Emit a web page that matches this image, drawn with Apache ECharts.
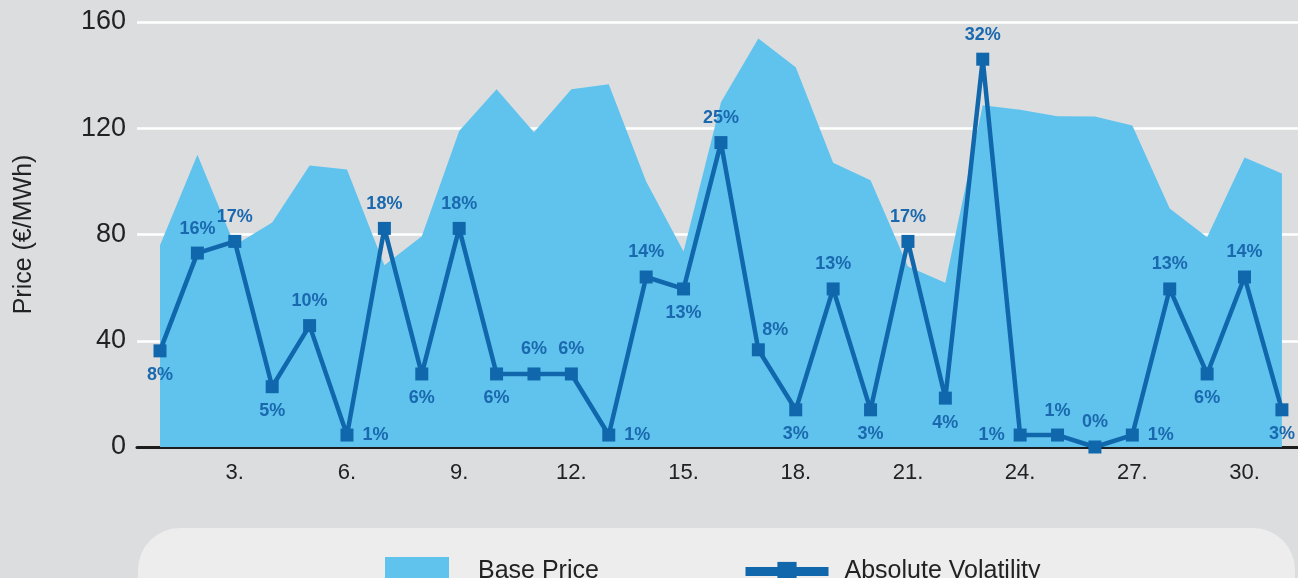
<!DOCTYPE html>
<html>
<head>
<meta charset="utf-8">
<script src="https://cdn.jsdelivr.net/npm/echarts@6/dist/echarts.min.js"></script>
<style>
html,body{margin:0;padding:0;background:#dcdddf;}
#chart{width:1298px;height:578px;}
</style>
</head>
<body>
<div id="chart"></div>
<script>
// ---- data ----
var days = [1,2,3,4,5,6,7,8,9,10,11,12,13,14,15,16,17,18,19,20,21,22,23,24,25,26,27,28,29,30,31];
var basePrice = [76,110,76,84.5,106,104.5,68.4,79.3,119,134.7,118.5,134.7,136.6,100,73.6,129.8,153.8,143,107,100.4,68,61.8,128.7,127,124.5,124.4,121,89.8,79,109,103];
var volatility = [36.2,73,77.4,22.7,45.7,4.5,82.3,27.5,82.3,27.5,27.5,27.5,4.5,64,59.5,114.6,36.6,14,59.5,14,77.4,18.4,146,4.5,4.5,0,4.5,59.5,27.5,64,14];
var volatilityPct = [8,16,17,5,10,1,18,6,18,6,6,6,1,14,13,25,8,3,13,3,17,4,32,1,1,0,1,13,6,14,3];
var xTickLabels = [3,6,9,12,15,18,21,24,27,30];
var yTicks = [0,40,80,120,160];

// ---- label placement (style) ----
var placement = ['bottom','top','top','bottom','top','right','top','bottom','top','bottom','top','top','right','top','bottom','top','top','bottom','top','bottom','top','bottom','top','left','top','top','right','top','bottom','top','bottom'];
var labelOffsets = {17:[17,5]};

var areaData = days.map(function(d,i){return [d, basePrice[i]];});
var lineData = days.map(function(d,i){
  var item = {value:[d, volatility[i]], label:{position:placement[i], distance:9}};
  if (labelOffsets[d]) item.label.offset = labelOffsets[d];
  return item;
});

var chart = echarts.init(document.getElementById('chart'));
var font = 'Liberation Sans, Arial, sans-serif';
chart.setOption({
  backgroundColor:'#dcdddf',
  animation:false,
  graphic:[{type:'rect', z:-10, shape:{x:138, y:528, width:1157, height:130, r:42}, style:{fill:'#ededed'}}],
  grid:{left:137, right:0, top:22, bottom:131},
  xAxis:{
    type:'value', min:0.385, max:31.43,
    axisLine:{show:true, onZero:true, lineStyle:{color:'#1d1d1d', width:3}},
    axisTick:{show:false},
    splitLine:{show:false},
    axisLabel:{customValues:xTickLabels, formatter:function(v){return v+'.';}, color:'#222', fontSize:22, fontFamily:font, margin:15}
  },
  yAxis:{
    type:'value', min:0, max:160, interval:40,
    name:'Price (€/MWh)', nameLocation:'middle', nameGap:100,
    nameTextStyle:{color:'#222', fontSize:25, fontFamily:font},
    axisLine:{show:false}, axisTick:{show:false},
    axisLabel:{color:'#222', fontSize:27, fontFamily:font, margin:11},
    splitLine:{lineStyle:{color:'#ffffff', width:2.5}}
  },
  legend:[
    {data:[{name:'Base Price', icon:'rect'}], left:380, top:552, itemWidth:64, itemHeight:28, itemGap:0,
     textStyle:{color:'#222', fontSize:25, fontFamily:font, padding:[0,0,0,24]}},
    {data:[{name:'Absolute Volatility'}], left:736, top:554, itemWidth:83, itemHeight:24, itemGap:0,
     lineStyle:{width:9}, textStyle:{color:'#222', fontSize:25, fontFamily:font, padding:[0,0,0,11]}}
  ],
  series:[
    {name:'Base Price', type:'line', data:areaData, symbol:'none', lineStyle:{width:0}, itemStyle:{color:'#60c3ee'},
     areaStyle:{color:'#60c3ee', opacity:1}, z:1},
    {name:'Absolute Volatility', type:'line', data:lineData, symbol:'rect', symbolSize:13,
     lineStyle:{color:'#1167ac', width:4.5}, itemStyle:{color:'#1167ac'},
     label:{show:true, formatter:function(p){return volatilityPct[p.dataIndex]+'%';}, color:'#1a69ae', fontSize:18, fontWeight:'bold', fontFamily:font},
     z:3}
  ]
});
</script>
</body>
</html>
